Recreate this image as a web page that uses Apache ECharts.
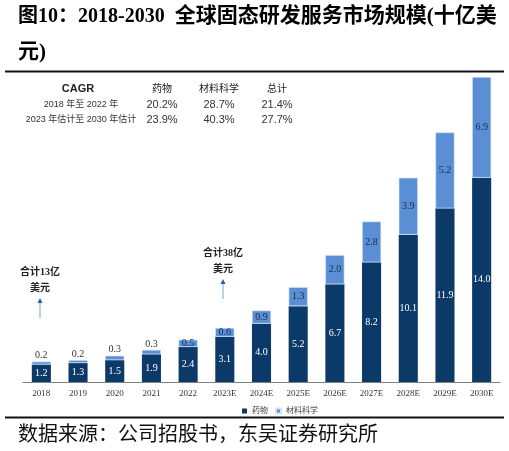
<!DOCTYPE html>
<html lang="zh">

<head>
    <meta charset="UTF-8">
    <script src="https://cdn.jsdelivr.net/npm/echarts@6/dist/echarts.min.js"></script>
    <title>全球固态研发服务市场规模</title>
    <style>
        html, body { margin: 0; padding: 0; background: #fff; }
    </style>
</head>

<body>
    <div id="main" style="width: 509px;height: 451px;"></div>

    <script>
        // 数据
        var years = ['2018', '2019', '2020', '2021', '2022', '2023E', '2024E', '2025E', '2026E', '2027E', '2028E', '2029E', '2030E'];
        var drugs = [1.2, 1.3, 1.5, 1.9, 2.4, 3.1, 4.0, 5.2, 6.7, 8.2, 10.1, 11.9, 14.0];
        var materials = [0.2, 0.2, 0.3, 0.3, 0.5, 0.6, 0.9, 1.3, 2.0, 2.8, 3.9, 5.2, 6.9];
        var seriesNames = ['药物', '材料科学'];

        var cagrHeader = ['CAGR', '药物', '材料科学', '总计'];
        var cagrRows = [
            ['2018 年至 2022 年', '20.2%', '28.7%', '21.4%'],
            ['2023 年估计至 2030 年估计', '23.9%', '40.3%', '27.7%']
        ];

        var navy = '#0b3a68';
        var lightBlue = '#5a8fd6';
        var serif = "'Liberation Serif', 'Noto Sans CJK SC'";
        var sans = "'Liberation Sans', 'Noto Sans CJK SC'";

        var chartDom = document.getElementById('main');
        var myChart = echarts.init(chartDom);

        // 小值标签放在柱顶，其余放在柱内
        var materialData = materials.map(function (v) {
            return {
                value: v,
                label: v < 0.4
                    ? { position: 'top', color: '#333', distance: 1 }
                    : { position: 'inside', color: '#1b2b48' }
            };
        });

        // CAGR 表格
        var colX = [78, 162, 219, 277];
        var rowY = [89, 105, 120];
        var tableTexts = [];
        cagrHeader.forEach(function (t, i) {
            tableTexts.push({
                type: 'text', x: colX[i], y: rowY[0],
                style: {
                    text: t, align: 'center', verticalAlign: 'middle',
                    font: (i === 0 ? 'bold 11px ' : '10px ') + sans, fill: '#222'
                }
            });
        });
        cagrRows.forEach(function (row, r) {
            row.forEach(function (t, i) {
                tableTexts.push({
                    type: 'text', x: colX[i] + (i === 0 ? 3 : 0), y: rowY[r + 1],
                    style: {
                        text: t, align: 'center', verticalAlign: 'middle',
                        font: (i === 0 ? '9px ' : '11px ') + sans, fill: '#333'
                    }
                });
            });
        });

        function note(x, y, line1) {
            return [
                { type: 'text', x: x, y: y, style: { text: line1, align: 'center', verticalAlign: 'middle', font: 'bold 10px ' + serif, fill: '#222' } },
                { type: 'text', x: x, y: y + 16, style: { text: '美元', align: 'center', verticalAlign: 'middle', font: 'bold 10px ' + serif, fill: '#222' } },
                { type: 'line', shape: { x1: x, y1: y + 46, x2: x, y2: y + 31 }, style: { stroke: '#8fb2df', lineWidth: 1.2 } },
                { type: 'polygon', shape: { points: [[x - 2.5, y + 31], [x + 2.5, y + 31], [x, y + 26]] }, style: { fill: '#2a5fa8' } }
            ];
        }

        var titleRich = {
            a: { fontFamily: serif, fontSize: 20, fontWeight: 'bold', color: '#1c3a6c' },
            c: { fontFamily: serif, fontSize: 21, fontWeight: 'bold', color: '#1c3a6c' }
        };

        var option = {
            backgroundColor: '#fff',
            animation: false,
            grid: { left: 23, right: 9, top: 61, bottom: 69 },
            legend: {
                data: seriesNames,
                left: 237,
                top: 402,
                icon: 'rect',
                itemWidth: 5,
                itemHeight: 5,
                itemGap: 7,
                textStyle: { fontSize: 8, color: '#444', fontFamily: serif }
            },
            xAxis: {
                type: 'category',
                data: years,
                axisLine: { lineStyle: { color: '#7f7f7f', width: 1.2 } },
                axisTick: { show: false },
                axisLabel: { fontSize: 9, color: '#333', fontFamily: serif, margin: 7, interval: 0 }
            },
            yAxis: {
                type: 'value',
                min: 0,
                max: 22,
                show: false,
                splitLine: { show: false }
            },
            series: [
                {
                    name: seriesNames[0],
                    type: 'bar',
                    stack: 'total',
                    barWidth: '52%',
                    data: drugs,
                    itemStyle: { color: navy },
                    label: {
                        show: true, position: 'inside', color: '#fff',
                        fontSize: 10, fontFamily: serif,
                        formatter: function (p) { return p.value.toFixed(1); }
                    }
                },
                {
                    name: seriesNames[1],
                    type: 'bar',
                    stack: 'total',
                    barWidth: '52%',
                    data: materialData,
                    itemStyle: { color: lightBlue, borderColor: '#d6e4f5', borderWidth: 0.6 },
                    label: {
                        show: true, fontSize: 10, fontFamily: serif,
                        formatter: function (p) { return p.value.toFixed(1); }
                    }
                }
            ],
            graphic: [
                { type: 'text', x: 18, y: 17, style: { text: '{a|图10：2018-2030  }{c|全球固态研发服务市场规模(十亿美}', rich: titleRich, verticalAlign: 'middle' } },
                { type: 'text', x: 18, y: 53, style: { text: '{c|元)}', rich: titleRich, verticalAlign: 'middle' } },
                { type: 'line', shape: { x1: 5, y1: 71.5, x2: 504, y2: 71.5 }, style: { stroke: '#111', lineWidth: 2 } },
                { type: 'line', shape: { x1: 5, y1: 417.5, x2: 504, y2: 417.5 }, style: { stroke: '#111', lineWidth: 2 } },
                { type: 'text', x: 18, y: 436, style: { text: '数据来源：公司招股书，东吴证券研究所', verticalAlign: 'middle', font: '20px ' + serif, fill: '#111' } }
            ].concat(tableTexts, note(40, 272, '合计13亿'), note(223, 253, '合计38亿'))
        };

        myChart.setOption(option);
    </script>
</body>

</html>
